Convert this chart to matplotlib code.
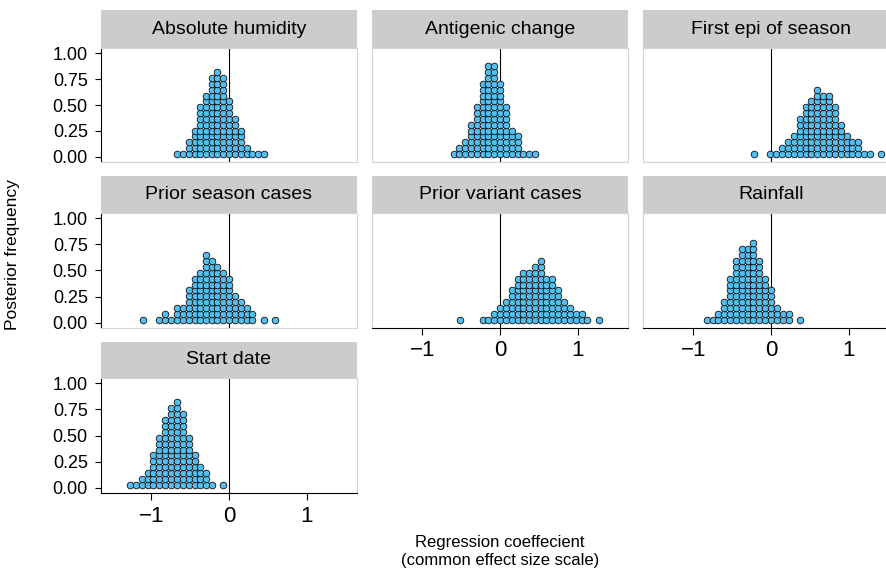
import numpy as np
import matplotlib
matplotlib.use("Agg")
import matplotlib.pyplot as plt

plt.rcParams['font.family'] = ['Liberation Sans', 'DejaVu Sans']

# facet names, in reading order
panels = ["Absolute humidity", "Antigenic change", "First epi of season",
          "Prior season cases", "Prior variant cases", "Rainfall", "Start date"]

# dot-plot bins: bin centre and number of stacked dots
humidity_x = [-0.675, -0.598, -0.521, -0.444, -0.368, -0.291, -0.222, -0.150,
              -0.073, 0.0, 0.073, 0.150, 0.227, 0.299, 0.376, 0.449]
humidity_n = [1, 1, 3, 5, 9, 11, 14, 15, 14, 10, 7, 5, 2, 1, 1, 1]

antigenic_x = [-0.598, -0.526, -0.449, -0.376, -0.299, -0.222, -0.150, -0.073,
               0.0, 0.077, 0.150, 0.226, 0.299, 0.376, 0.457]
antigenic_n = [1, 2, 3, 6, 9, 13, 16, 16, 13, 9, 5, 4, 1, 1, 1]

first_epi_x = [-0.222, -0.009, 0.068, 0.145, 0.222, 0.295, 0.372, 0.449, 0.521,
               0.598, 0.675, 0.748, 0.821, 0.897, 0.974, 1.047, 1.124, 1.197,
               1.274, 1.423]
first_epi_n = [1, 1, 1, 2, 3, 4, 7, 9, 10, 12, 11, 11, 9, 6, 4, 3, 3, 1, 1, 1]

prior_season_x = [-1.115, -0.897, -0.825, -0.748, -0.675, -0.598, -0.521, -0.444,
                  -0.368, -0.291, -0.222, -0.150, -0.073, 0.0, 0.073, 0.150,
                  0.226, 0.299, 0.449, 0.598]
prior_season_n = [1, 1, 2, 1, 3, 3, 6, 8, 9, 12, 11, 10, 9, 8, 5, 4, 3, 2, 1, 1]

prior_variant_x = [-0.521, -0.222, -0.150, -0.077, 0.0, 0.077, 0.150, 0.226,
                   0.299, 0.376, 0.453, 0.526, 0.598, 0.675, 0.752, 0.829,
                   0.902, 0.979, 1.051, 1.120, 1.274]
prior_variant_n = [1, 1, 1, 2, 3, 4, 6, 8, 9, 9, 10, 11, 8, 8, 6, 4, 3, 2, 2, 1, 1]

rainfall_x = [-0.829, -0.752, -0.679, -0.603, -0.530, -0.453, -0.376, -0.299,
              -0.226, -0.150, -0.073, 0.0, 0.077, 0.154, 0.226, 0.376]
rainfall_n = [1, 1, 2, 4, 8, 11, 13, 13, 14, 11, 8, 6, 3, 2, 2, 1]

start_x = [-1.274, -1.197, -1.124, -1.047, -0.974, -0.897, -0.821, -0.748,
           -0.671, -0.598, -0.521, -0.444, -0.368, -0.291, -0.218, -0.077]
start_n = [1, 1, 2, 3, 6, 9, 12, 14, 15, 13, 9, 6, 4, 3, 1, 1]

bins = [(humidity_x, humidity_n), (antigenic_x, antigenic_n),
        (first_epi_x, first_epi_n), (prior_season_x, prior_season_n),
        (prior_variant_x, prior_variant_n), (rainfall_x, rainfall_n),
        (start_x, start_n)]

yticks = [0.0, 0.25, 0.5, 0.75, 1.0]
xticks = [-1, 0, 1]

W, H = 887, 587
DOT_STEP = 0.0563  # height of one stacked dot in y units
FILL = "#55BEEF"
BORDER = "#d4d4d4"

fig = plt.figure(figsize=(W / 100, H / 100), dpi=100)

cols = [(101, 357), (372, 628), (643, 899)]
rows = [(10, 48, 162), (176, 213, 328), (342, 378, 493)]


def px_axes(l, t, r, b):
    return fig.add_axes([l / W, 1 - b / H, (r - l) / W, (b - t) / H])


for i, name in enumerate(panels):
    r, c = divmod(i, 3)
    left, right = cols[c]
    s_top, p_top, p_bot = rows[r]

    # strip
    sax = px_axes(left, s_top, right, p_top)
    sax.set_facecolor("#cccccc")
    sax.set_xticks([])
    sax.set_yticks([])
    for sp in sax.spines.values():
        sp.set_visible(False)
    sax.text(0.5, 0.5, name, ha="center", va="center", fontsize=14,
             transform=sax.transAxes)

    ax = px_axes(left, p_top, right, p_bot)
    xs, ns = bins[i]
    px = np.repeat(xs, ns)
    py = np.concatenate([(np.arange(n) + 0.5) * DOT_STEP for n in ns])
    ax.axvline(0, color="black", lw=0.8, zorder=1)
    ax.scatter(px, py, s=23, c=FILL, edgecolors="black", linewidths=0.55, zorder=2)
    ax.set_xlim(-1.65, 1.65)
    ax.set_ylim(-0.05, 1.05)

    for sp in ax.spines.values():
        sp.set_color(BORDER)
        sp.set_linewidth(0.8)

    if c == 0:
        ax.spines["left"].set_color("black")
        ax.set_yticks(yticks)
        ax.set_yticklabels(["0.00", "0.25", "0.50", "0.75", "1.00"])
        ax.tick_params(axis="y", length=4, width=0.8, pad=5.5, labelsize=13)
    else:
        ax.set_yticks([])

    bottom = (r == 2) or (r == 1 and c > 0)
    if bottom:
        ax.spines["bottom"].set_color("black")
        ax.set_xticks(xticks)
        ax.tick_params(axis="x", length=5, width=0.8, pad=4, labelsize=16)
    else:
        ax.set_xticks([])

fig.text(13 / W, 1 - 255 / H, "Posterior frequency", rotation=90,
         ha="center", va="center", fontsize=12.5)
fig.text(500 / W, 1 - 551 / H, "Regression coeffecient\n(common effect size scale)",
         ha="center", va="center", fontsize=12, linespacing=1.25)

fig.savefig("out.png", dpi=100)
